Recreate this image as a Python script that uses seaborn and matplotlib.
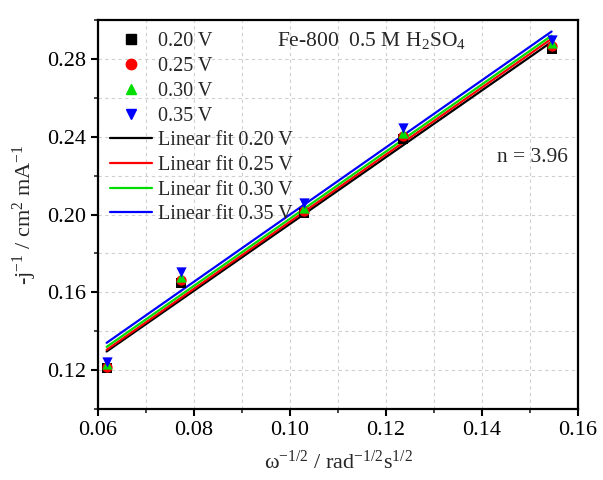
import numpy as np
import pandas as pd
import matplotlib
matplotlib.use("Agg")
import matplotlib.pyplot as plt
from matplotlib.ticker import MultipleLocator
from matplotlib.lines import Line2D
import seaborn as sns

# ---- data ----
x_vals = [0.0618, 0.0773, 0.1030, 0.1236, 0.1545]
potentials = ["0.20 V", "0.25 V", "0.30 V", "0.35 V"]
y_020 = [0.1211, 0.1648, 0.2008, 0.2388, 0.2851]
y_025 = [0.1216, 0.1663, 0.2018, 0.2404, 0.2866]
y_030 = [0.1230, 0.1680, 0.2033, 0.2419, 0.2882]
y_035 = [0.1242, 0.1706, 0.2059, 0.2445, 0.2897]
series = [y_020, y_025, y_030, y_035]
colors = ["#000000", "#ff0000", "#00dd00", "#0000ff"]
markers = ["s", "o", "^", "v"]

sns.set_style("ticks")
plt.rcParams["font.family"] = ["Liberation Serif", "DejaVu Serif"]
plt.rcParams["mathtext.fontset"] = "custom"
plt.rcParams["mathtext.rm"] = "Liberation Serif"
plt.rcParams["mathtext.it"] = "Liberation Serif:italic"
plt.rcParams["mathtext.default"] = "rm"

fig = plt.figure(figsize=(6.03, 4.80), dpi=100)
ax = fig.add_axes([0.1625, 0.148, 0.796, 0.810])

for pot, ys, c, m in zip(potentials, series, colors, markers):
    df = pd.DataFrame({"x": x_vals, "y": ys})
    sns.scatterplot(data=df, x="x", y="y", marker=m, color=c, s=55,
                    edgecolor=c, linewidth=0, ax=ax, zorder=3)
for pot, ys, c in zip(potentials, series, colors):
    k, b = np.polyfit(x_vals, ys, 1)
    xf = np.array([min(x_vals), max(x_vals)])
    df = pd.DataFrame({"x": xf, "y": k * xf + b})
    sns.lineplot(data=df, x="x", y="y", color=c, linewidth=1.6, ax=ax, zorder=2)

point_handles = [Line2D([], [], linestyle="none", marker=m, color=c,
                        markersize=7.5, label=pot)
                 for pot, c, m in zip(potentials, colors, markers)]
line_handles = [Line2D([], [], color=c, linewidth=1.6, label="Linear fit " + pot)
                for pot, c in zip(potentials, colors)]
ax.legend(handles=point_handles + line_handles, loc="upper left",
          frameon=False, fontsize=14.5, labelspacing=0.28,
          handlelength=2.1, handletextpad=0.3, borderaxespad=0.2,
          bbox_to_anchor=(0.0, 1.0))

ax.set_xlim(0.06, 0.16)
ax.set_ylim(0.10, 0.30)
ax.xaxis.set_minor_locator(MultipleLocator(0.01))
ax.yaxis.set_minor_locator(MultipleLocator(0.02))
ax.set_xticks([0.06, 0.08, 0.10, 0.12, 0.14, 0.16])
ax.set_xticklabels(["0.06", "0.08", "0.10", "0.12", "0.14", "0.16"])
ax.set_yticks([0.12, 0.16, 0.20, 0.24, 0.28])
ax.set_yticklabels(["0.12", "0.16", "0.20", "0.24", "0.28"])

ax.grid(True, which="both", linestyle=(0, (3, 3)), color="#cfcfcf", linewidth=0.8)
ax.set_axisbelow(True)
for sp in ax.spines.values():
    sp.set_linewidth(1.6)
    sp.set_color("black")
ax.tick_params(which="major", direction="out", length=5, width=1.5, labelsize=16,
               colors="black")
ax.tick_params(which="minor", direction="out", length=3, width=1.2)

ax.set_xlabel(r"ω$^{-1/2}$ / rad$^{-1/2}$s$^{1/2}$", fontsize=16, labelpad=8)
ax.set_ylabel(r"-j$^{-1}$ / cm$^{2}$ mA$^{-1}$", fontsize=16, labelpad=6)

ax.text(0.0973, 0.2897, r"Fe-800  0.5 M H$_2$SO$_4$", fontsize=15.5, va="center")
ax.text(0.1431, 0.2296, "n = 3.96", fontsize=15.5, va="center")

fig.savefig("out.png", dpi=100)
